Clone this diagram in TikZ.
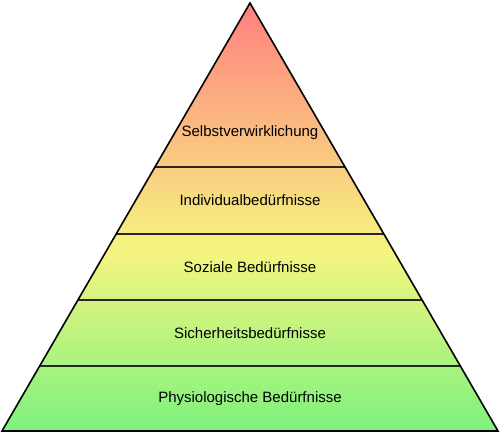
\documentclass[tikz,border=0pt]{standalone}
\usepackage{fontspec}
\setmainfont{Liberation Sans}
\usetikzlibrary{calc}

\definecolor{topred}{RGB}{255,128,128}
\definecolor{midyellow}{RGB}{245,245,128}
\definecolor{basegreen}{RGB}{125,242,125}
\pgfdeclareverticalshading{needs}{100bp}{color(0bp)=(basegreen); color(25bp)=(basegreen); color(46bp)=(midyellow); color(75bp)=(topred); color(100bp)=(topred)}

\begin{document}
\begin{tikzpicture}[
    x=1pt, y=1pt,
    body/.style={shading=needs},
    outline/.style={draw=black, line width=1.6pt, line join=miter},
    level/.style={draw=black!85, line width=1.6pt},
    need/.style={font=\fontsize{15}{18}\selectfont, inner sep=0pt}
]
\useasboundingbox (0,0) rectangle (500,433);

% corners
\coordinate (apex) at (250,430);
\coordinate (bl) at (2,2);
\coordinate (br) at (498,2);

% pyramid body
\path[body] (apex) -- (bl) -- (br) -- cycle;

% level boundaries
\foreach \t [count=\i] in {0.3832,0.5397,0.6939,0.8481}{
    \coordinate (l\i) at ($(apex)!\t!(bl)$);
    \coordinate (r\i) at ($(apex)!\t!(br)$);
    \draw[level] (l\i) -- (r\i);
}
\draw[outline] (apex) -- (bl) -- (br) -- cycle;

% needs
\node[need] (self)   at (250,300) {Selbstverwirklichung};
\node[need] (indiv)  at (250,232.5) {Individualbedürfnisse};
\node[need] (social) at (250,166) {Soziale Bedürfnisse};
\node[need] (safety) at (250,100) {Sicherheitsbedürfnisse};
\node[need] (physio) at (250,34.5) {Physiologische Bedürfnisse};

\end{tikzpicture}
\end{document}
